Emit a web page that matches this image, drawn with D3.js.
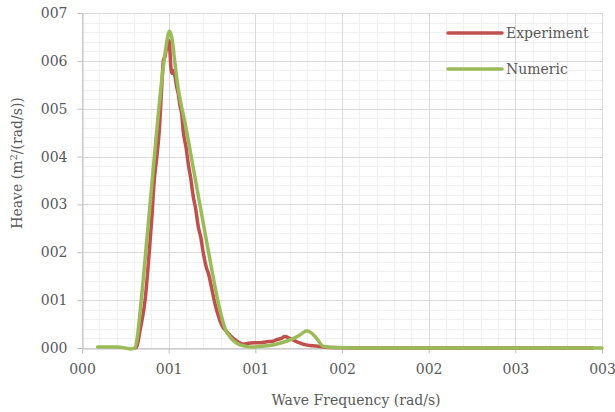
<!DOCTYPE html>
<html><head><meta charset="utf-8">
<script src="https://cdn.jsdelivr.net/npm/d3@7"></script>
<style>body{margin:0;background:#fff}svg{display:block}</style>
</head><body><svg id="c" width="615" height="412"></svg>
<script>
const xTickValues = [0, 0.5, 1, 1.5, 2, 2.5, 3];
const xTickLabels = ["000", "001", "001", "002", "002", "003", "003"];
const yTickValues = [0, 1, 2, 3, 4, 5, 6, 7];
const yTickLabels = ["000", "001", "002", "003", "004", "005", "006", "007"];
const seriesNames = ["Experiment", "Numeric"];
const seriesColors = ["#c0504d", "#9bbb59"];

const expFreq = [0.30, 0.315, 0.335, 0.364, 0.383, 0.402, 0.417, 0.432, 0.446, 0.46, 0.47, 0.48, 0.489, 0.497, 0.504, 0.508, 0.512, 0.518, 0.527, 0.537, 0.546, 0.556, 0.566, 0.575, 0.585, 0.6, 0.613, 0.627, 0.642, 0.656, 0.671, 0.686, 0.70, 0.72, 0.729, 0.748, 0.767, 0.786, 0.806, 0.84, 0.873, 0.90, 0.93, 0.96, 0.99, 1.03, 1.066, 1.10, 1.12, 1.15, 1.17, 1.20, 1.24, 1.30, 1.35, 1.43, 1.6, 2.0, 2.5, 2.95];
const expHeave = [0.0, 0.02, 0.37, 1.0, 1.77, 2.67, 3.51, 4.0, 4.55, 5.46, 6.02, 6.1, 6.3, 6.25, 6.42, 6.16, 5.9, 5.74, 5.8, 5.67, 5.46, 5.3, 5.04, 4.9, 4.5, 4.2, 3.85, 3.55, 3.16, 2.9, 2.53, 2.3, 1.98, 1.65, 1.56, 1.25, 0.93, 0.68, 0.48, 0.32, 0.2, 0.13, 0.08, 0.1, 0.11, 0.11, 0.13, 0.14, 0.17, 0.2, 0.24, 0.2, 0.13, 0.06, 0.04, 0.01, 0.0, 0.0, 0.0, 0.0];

const numFreq = [0.09, 0.2, 0.25, 0.28, 0.305, 0.32, 0.335, 0.35, 0.37, 0.39, 0.41, 0.43, 0.45, 0.47, 0.485, 0.497, 0.504, 0.512, 0.522, 0.533, 0.55, 0.60, 0.65, 0.70, 0.748, 0.787, 0.825, 0.86, 0.893, 0.94, 0.99, 1.05, 1.12, 1.17, 1.22, 1.26, 1.296, 1.325, 1.354, 1.39, 1.45, 1.6, 2.0, 2.5, 3.0];
const numHeave = [0.02, 0.02, 0.0, -0.02, 0.0, 0.25, 0.75, 1.3, 2.1, 2.9, 3.7, 4.5, 5.25, 5.9, 6.3, 6.55, 6.62, 6.57, 6.4, 6.05, 5.55, 4.6, 3.6, 2.6, 1.65, 0.93, 0.41, 0.2, 0.1, 0.04, 0.02, 0.04, 0.08, 0.13, 0.2, 0.28, 0.36, 0.31, 0.2, 0.04, 0.01, 0.0, 0.0, 0.0, 0.0];

const svg = d3.select("#c");
const L = 82, R = 602, T = 13, B = 348;
const x = d3.scaleLinear().domain([0, 3]).range([L, R]);
const y = d3.scaleLinear().domain([0, 7]).range([B, T]);
const font = "'DejaVu Serif', serif";
const txt = "#595959";
const fs = "14px";

// minor grid
const gMinor = svg.append("g").attr("stroke", "#f0f0f0").attr("stroke-width", 1);
d3.range(0, 31).map(i => i / 10).forEach(v => {
  gMinor.append("line").attr("x1", Math.round(x(v)) + 0.5).attr("x2", Math.round(x(v)) + 0.5).attr("y1", T).attr("y2", B);
});
d3.range(0, 36).map(i => i / 5).forEach(v => {
  gMinor.append("line").attr("y1", Math.round(y(v)) + 0.5).attr("y2", Math.round(y(v)) + 0.5).attr("x1", L).attr("x2", R);
});
// major grid
const gMajor = svg.append("g").attr("stroke", "#d9d9d9").attr("stroke-width", 1);
xTickValues.forEach(v => {
  gMajor.append("line").attr("x1", Math.round(x(v)) + 0.5).attr("x2", Math.round(x(v)) + 0.5).attr("y1", T).attr("y2", B);
});
yTickValues.forEach(v => {
  gMajor.append("line").attr("y1", Math.round(y(v)) + 0.5).attr("y2", Math.round(y(v)) + 0.5).attr("x1", L).attr("x2", R);
});

// axes
const xAxis = d3.axisBottom(x).tickValues(xTickValues).tickFormat((d, i) => xTickLabels[i]).tickSizeInner(5).tickSizeOuter(0).tickPadding(11);
const yAxis = d3.axisLeft(y).tickValues(yTickValues).tickFormat((d, i) => yTickLabels[i]).tickSizeInner(5).tickSizeOuter(0).tickPadding(10);
const gx = svg.append("g").attr("transform", `translate(0,${B + 0.5})`).call(xAxis);
const gy = svg.append("g").attr("transform", `translate(${L + 0.5},0)`).call(yAxis);
[gx, gy].forEach(g => {
  g.selectAll("path,line").attr("stroke", "#bfbfbf");
  g.selectAll("text").attr("fill", txt).style("font-family", font).style("font-size", fs);
});

// lines
const line = d3.line().x(d => x(d[0])).y(d => y(d[1])).curve(d3.curveMonotoneX);
const expData = expFreq.map((f, i) => [f, expHeave[i]]);
const numData = numFreq.map((f, i) => [f, numHeave[i]]);
svg.append("path").datum(expData).attr("d", line).attr("fill", "none").attr("stroke", seriesColors[0]).attr("stroke-width", 3.5).attr("stroke-linejoin", "round");
svg.append("path").datum(numData).attr("d", line).attr("fill", "none").attr("stroke", seriesColors[1]).attr("stroke-width", 3.5).attr("stroke-linejoin", "round").attr("stroke-linecap", "round");

// legend
seriesNames.forEach((n, i) => {
  const ly = 33 + i * 36;
  svg.append("line").attr("x1", 448).attr("x2", 502).attr("y1", ly).attr("y2", ly).attr("stroke", seriesColors[i]).attr("stroke-width", 3.5).attr("stroke-linecap", "round");
  svg.append("text").attr("x", 506).attr("y", ly).attr("dy", "0.35em").attr("fill", txt).style("font-family", font).style("font-size", fs).text(n);
});

// axis titles
svg.append("text").attr("x", 356).attr("y", 405).attr("text-anchor", "middle").attr("fill", txt).style("font-family", font).style("font-size", fs).text("Wave Frequency (rad/s)");
const yt = svg.append("text").attr("transform", `translate(22,${163}) rotate(-90)`).attr("text-anchor", "middle").attr("fill", txt).style("font-family", font).style("font-size", fs);
yt.append("tspan").text("Heave (m");
yt.append("tspan").attr("dy", -5).style("font-size", "10px").text("2");
yt.append("tspan").attr("dy", 5).text("/(rad/s))");
</script></body></html>
